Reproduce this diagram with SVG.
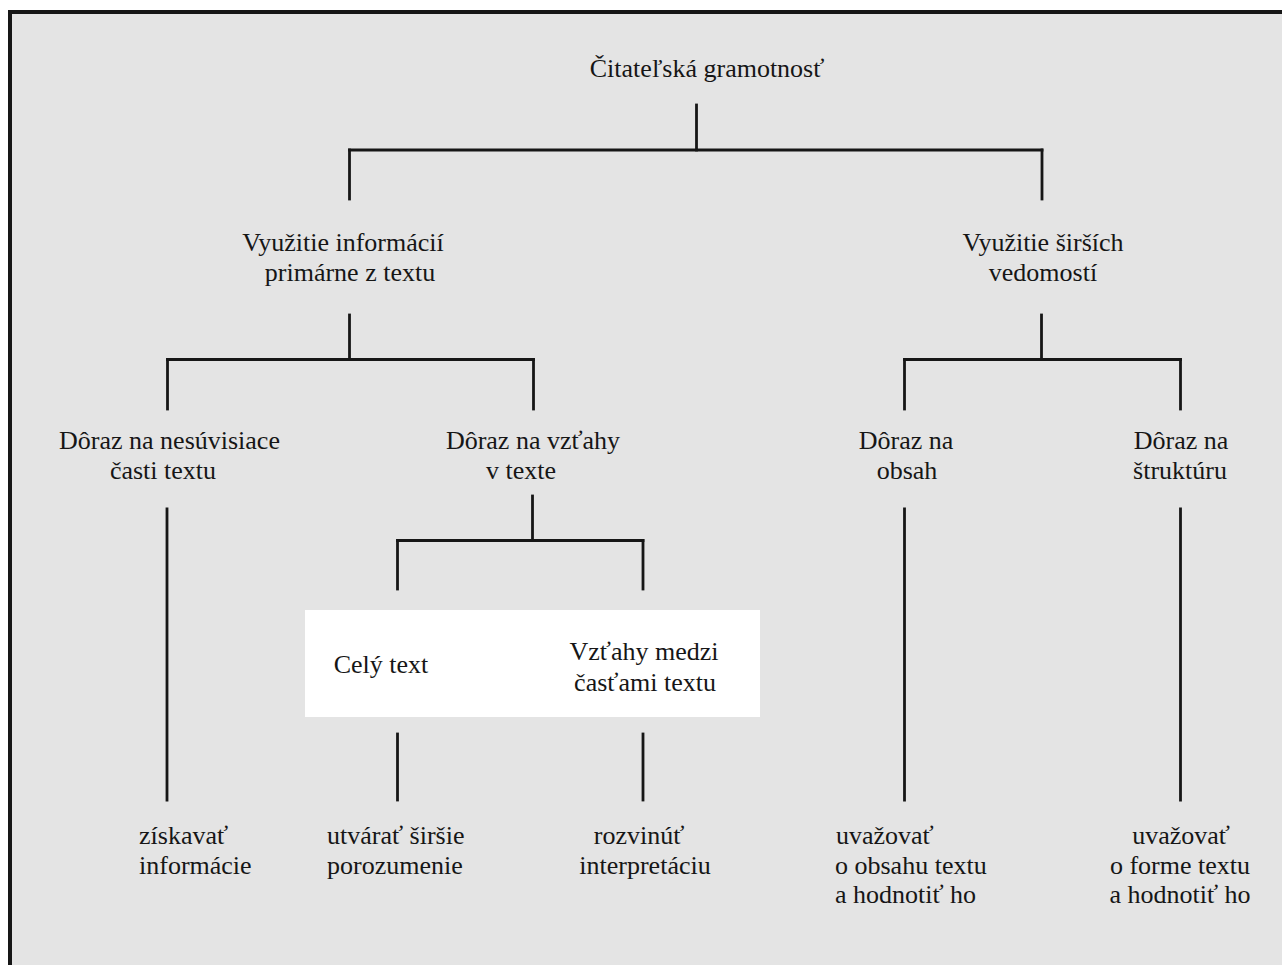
<svg xmlns="http://www.w3.org/2000/svg" width="1282" height="965" viewBox="0 0 1282 965">
<style>
text{font-family:'Liberation Serif','Times New Roman',serif !important;font-size:26px;fill:#161616}
.m{text-anchor:middle}
.c line{stroke:#161616;stroke-width:2.8;stroke-linecap:square}
</style>
<rect x="0" y="0" width="1282" height="965" fill="#ffffff"/>
<rect x="10" y="12" width="1300" height="990" fill="#e4e4e4" stroke="#161616" stroke-width="4"/>
<rect id="highlight" x="305" y="610" width="455" height="107" fill="#ffffff"/>
<g class="c" id="connectors">
<line x1="696.5" y1="105" x2="696.5" y2="150"/>
<line x1="349.5" y1="150" x2="1042" y2="150"/>
<line x1="349.5" y1="150" x2="349.5" y2="199"/>
<line x1="1042" y1="150" x2="1042" y2="199"/>
<line x1="349.5" y1="315" x2="349.5" y2="359.5"/>
<line x1="167.5" y1="359.5" x2="533.5" y2="359.5"/>
<line x1="167.5" y1="359.5" x2="167.5" y2="409"/>
<line x1="533.5" y1="359.5" x2="533.5" y2="409"/>
<line x1="1041.5" y1="315" x2="1041.5" y2="359.5"/>
<line x1="904.5" y1="359.5" x2="1180.5" y2="359.5"/>
<line x1="904.5" y1="359.5" x2="904.5" y2="409"/>
<line x1="1180.5" y1="359.5" x2="1180.5" y2="409"/>
<line x1="532.5" y1="496" x2="532.5" y2="540.5"/>
<line x1="397.5" y1="540.5" x2="643" y2="540.5"/>
<line x1="397.5" y1="540.5" x2="397.5" y2="589"/>
<line x1="643" y1="540.5" x2="643" y2="589"/>
<line x1="167" y1="509" x2="167" y2="800"/>
<line x1="904.5" y1="509" x2="904.5" y2="800"/>
<line x1="1180.5" y1="509" x2="1180.5" y2="800"/>
<line x1="397.5" y1="734" x2="397.5" y2="800"/>
<line x1="643" y1="734" x2="643" y2="800"/>
</g>
<g font-family="Liberation Serif" font-size="26" fill="#161616">
<g id="root"><text style="font-family:'Liberation Serif',serif" class="m" x="707" y="77">Čitateľská gramotnosť</text></g>
<g id="n-info"><text style="font-family:'Liberation Serif',serif" class="m" x="343" y="251">Využitie informácií</text><text style="font-family:'Liberation Serif',serif" class="m" x="350" y="281">primárne z textu</text></g>
<g id="n-wider"><text style="font-family:'Liberation Serif',serif" class="m" x="1043" y="251">Využitie širších</text><text style="font-family:'Liberation Serif',serif" class="m" x="1043" y="281">vedomostí</text></g>
<g id="n-unrelated"><text style="font-family:'Liberation Serif',serif" class="m" x="169.5" y="449">Dôraz na nesúvisiace</text><text style="font-family:'Liberation Serif',serif" class="m" x="163" y="479">časti textu</text></g>
<g id="n-relations"><text style="font-family:'Liberation Serif',serif" class="m" x="533" y="449">Dôraz na vzťahy</text><text style="font-family:'Liberation Serif',serif" class="m" x="521" y="479">v texte</text></g>
<g id="n-content"><text style="font-family:'Liberation Serif',serif" class="m" x="906" y="449">Dôraz na</text><text style="font-family:'Liberation Serif',serif" class="m" x="907" y="479">obsah</text></g>
<g id="n-structure"><text style="font-family:'Liberation Serif',serif" class="m" x="1181" y="449">Dôraz na</text><text style="font-family:'Liberation Serif',serif" class="m" x="1180" y="479">štruktúru</text></g>
<g id="n-whole"><text style="font-family:'Liberation Serif',serif" class="m" x="381" y="673">Celý text</text></g>
<g id="n-parts"><text style="font-family:'Liberation Serif',serif" class="m" x="644" y="660">Vzťahy medzi</text><text style="font-family:'Liberation Serif',serif" class="m" x="645" y="691">časťami textu</text></g>
<g id="o-retrieve"><text style="font-family:'Liberation Serif',serif" x="139" y="844">získavať</text><text style="font-family:'Liberation Serif',serif" x="139" y="874">informácie</text></g>
<g id="o-understand"><text style="font-family:'Liberation Serif',serif" x="327" y="844">utvárať širšie</text><text style="font-family:'Liberation Serif',serif" x="327" y="874">porozumenie</text></g>
<g id="o-interpret"><text style="font-family:'Liberation Serif',serif" class="m" x="639" y="844">rozvinúť</text><text style="font-family:'Liberation Serif',serif" class="m" x="645" y="874">interpretáciu</text></g>
<g id="o-content"><text style="font-family:'Liberation Serif',serif" x="836" y="844">uvažovať</text><text style="font-family:'Liberation Serif',serif" x="835" y="874">o obsahu textu</text><text style="font-family:'Liberation Serif',serif" x="835" y="903">a hodnotiť ho</text></g>
<g id="o-form"><text style="font-family:'Liberation Serif',serif" class="m" x="1181" y="844">uvažovať</text><text style="font-family:'Liberation Serif',serif" class="m" x="1180" y="874">o forme textu</text><text style="font-family:'Liberation Serif',serif" class="m" x="1180" y="903">a hodnotiť ho</text></g>
</g>
</svg>
